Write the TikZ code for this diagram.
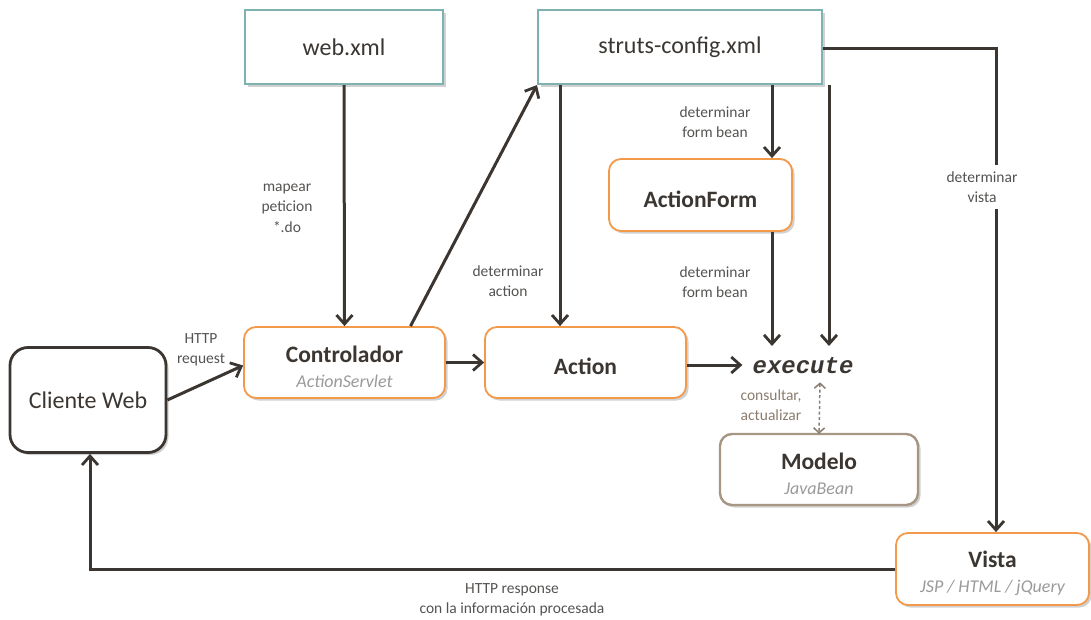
\documentclass[tikz,border=0pt]{standalone}
\usepackage{fontspec}
\setmainfont{Carlito}
\newfontfamily\execfont{Liberation Mono}
\usetikzlibrary{arrows.meta,shadows}

\definecolor{ink}{HTML}{3B3631}
\definecolor{labelgray}{HTML}{555351}
\definecolor{subgray}{HTML}{9A9A9A}
\definecolor{tealline}{HTML}{7DB2B0}
\definecolor{orangeline}{HTML}{F39A4A}
\definecolor{modelline}{HTML}{A89684}
\definecolor{modeltxt}{HTML}{8A7C6E}

% the strut drops the title a little below the box centre
\newcommand{\boxtitle}[1]{{\rule{0pt}{25pt}\fontsize{23.5}{26}\selectfont\bfseries #1}}
\newcommand{\boxsub}[1]{{\color{subgray}\fontsize{18}{22}\selectfont\itshape #1}}

\tikzset{
  base/.style={draw, line width=2.2pt, fill=white, align=center, text=ink,
    drop shadow={shadow xshift=2.5pt, shadow yshift=-2.5pt, opacity=0.18, fill=black}},
  filebox/.style={base, draw=tealline, rounded corners=0pt, font=\fontsize{24}{28}\selectfont},
  comp/.style={base, draw=orangeline, line width=1.8pt, rounded corners=12pt, font=\fontsize{18}{25}\selectfont},
  client/.style={base, draw=ink, line width=2.8pt, rounded corners=18pt, font=\fontsize{24}{28}\selectfont},
  model/.style={base, draw=modelline, line width=2.4pt, rounded corners=12pt, font=\fontsize{18}{25}\selectfont},
  conn/.style={draw=ink, line width=3pt, -{Straight Barb[length=9pt,width=16pt,line width=2.8pt]}},
  note/.style={font=\fontsize{15.5}{20.5}\selectfont, text=labelgray, align=center},
}

\begin{document}
\begin{tikzpicture}[x=1pt,y=-1pt]
\useasboundingbox (0,0) rectangle (1091,619);

% configuration files
\node[filebox, minimum width=198pt, minimum height=74pt] (web) at (344,47) {web.xml};
\node[filebox, minimum width=284pt, minimum height=74pt] (struts) at (680,47) {struts-config.xml};

% components
\node[client, minimum width=156pt, minimum height=105pt] (client) at (88,400) {Cliente Web};
\node[comp, minimum width=201pt, minimum height=71pt] (ctrl) at (344.5,362.5)
  {\boxtitle{Controlador}\\\boxsub{ActionServlet}};
\node[comp, minimum width=201pt, minimum height=71pt] (action) at (585.5,362.5) {\boxtitle{Action}};
\node[comp, minimum width=183pt, minimum height=72pt] (form) at (700.5,195) {\boxtitle{ActionForm}};
\node[model, minimum width=198pt, minimum height=71pt] (model) at (819,469.5)
  {\boxtitle{Modelo}\\\boxsub{JavaBean}};
\node[comp, minimum width=193pt, minimum height=72pt] (vista) at (992.5,569)
  {\boxtitle{Vista}\\\boxsub{JSP / HTML / jQuery}};

% execute method
\node[font=\execfont\fontsize{24}{28}\selectfont\bfseries\itshape, text=ink, inner sep=2pt] (exec) at (803,366) {execute};
\coordinate (etop) at (803,346);

% request path
\draw[conn] (client.east) -- ([yshift=-3pt]ctrl.west);
\node[note] (lreq) at (201,350) {HTTP\\request};

\draw[conn] (web.south) -- (ctrl.north);
\node[note] (lmap) at (287,208) {mapear\\peticion\\*.do};

\draw[conn] ([xshift=66pt]ctrl.north) -- (struts.south west);
\draw[conn] (ctrl.east) -- (action.west);

\draw[conn] ([xshift=-120pt]struts.south) -- ([xshift=-120pt]struts.south |- action.north);
\node[note] (lact) at (508,281) {determinar\\action};

\draw[conn] ([xshift=92pt]struts.south) -- ([xshift=92pt]struts.south |- form.north);
\node[note] (lfb1) at (715,122) {determinar\\form bean};

\draw[conn] ([xshift=71.5pt]form.south) -- ([xshift=71.5pt]form.south |- etop);
\node[note] (lfb2) at (715,282) {determinar\\form bean};

\draw[conn] ([xshift=149pt]struts.south) -- ([xshift=149pt]struts.south |- etop);

\draw[conn] ([yshift=-2.5pt]action.east) -- ([yshift=-2.5pt,xshift=-8pt]action.east -| exec.west);

% model access
\draw[draw=modeltxt, line width=1.5pt, dash pattern=on 3pt off 2.5pt,
  {Straight Barb[length=5pt,width=11pt,line width=1.5pt]}-{Straight Barb[length=5pt,width=11pt,line width=1.5pt]}]
  ([xshift=17pt,yshift=-6pt]exec.south) -- ([yshift=-1pt]model.north);
\node[note, text=modeltxt] (lcons) at (771,405) {consultar,\\actualizar};

% view selection
\coordinate (vturn) at (996,48);
\draw[conn] (struts.east |- vturn) -- (vturn) -- ([xshift=3.5pt]vista.north);
\node[note, fill=white, inner xsep=4pt, inner ysep=6pt] (lvista) at (982,187) {determinar\\vista};

% response path
\draw[conn] (vista.west) -| ([xshift=2pt]client.south);
\node[note] (lresp) at (512,600) {HTTP response\\con la información procesada};
\end{tikzpicture}
\end{document}
